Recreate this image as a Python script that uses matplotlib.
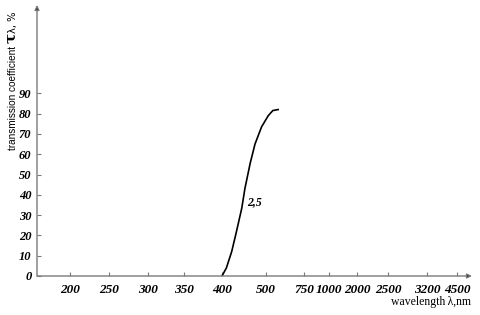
import numpy as np
import matplotlib
matplotlib.use("Agg")
import matplotlib.pyplot as plt

# tick wavelengths (nm) shown on the x axis, axis is not linear
tick_wl = [200, 250, 300, 350, 400, 500, 750, 1000, 2000, 2500, 3200, 4500]
# where each tick sits along the axis (pixels from the left of the figure)
tick_px = [70, 109, 148, 184, 222, 266, 304, 329, 357, 388, 427, 457]
y_ticks = [0, 10, 20, 30, 40, 50, 60, 70, 80, 90]

# curve "2,5"
wl = [400, 410, 422, 433, 445, 452, 464, 475, 490, 515, 545, 580]
tau = [0, 4, 12, 22, 33.5, 43, 55.5, 65, 73.5, 79, 81.5, 82]

anchor_wl = [150] + tick_wl + [5000]
anchor_px = [37] + tick_px + [472]


def fwd(x):
    return np.interp(x, anchor_wl, anchor_px)


def inv(p):
    return np.interp(p, anchor_px, anchor_wl)


W, H = 480, 315
fig = plt.figure(figsize=(4.8, 3.15), dpi=100)
ax = fig.add_axes([37 / W, 39 / H, (472 - 37) / W, (276 - 5) / H])
ax.set_xscale("function", functions=(fwd, inv))
ax.set_xlim(150, 5000)
ax.set_ylim(0, (276 - 5) / 2.03)

ax.plot(wl, tau, color="black", lw=1.2)
ax.text(474, 36.5, "2,5", ha="center", va="center", fontsize=8.5,
        family="Liberation Serif", style="italic", weight="bold")

grey = "#7a7a7a"
for s in ax.spines.values():
    s.set_visible(False)
ax.annotate("", xy=(0, 1), xytext=(0, 0), xycoords="axes fraction",
            arrowprops=dict(arrowstyle="-|>", color=grey, lw=1.0,
                            mutation_scale=7, fc="black", shrinkA=0, shrinkB=0))
ax.annotate("", xy=(1, 0), xytext=(0, 0), xycoords="axes fraction",
            arrowprops=dict(arrowstyle="-|>", color=grey, lw=1.0,
                            mutation_scale=7, fc="black", shrinkA=0, shrinkB=0))

ax.set_xticks(tick_wl)
ax.set_xticklabels([str(t) for t in tick_wl])
ax.set_yticks(y_ticks)
ax.set_yticklabels([str(t) for t in y_ticks])
ax.minorticks_off()
ax.tick_params(axis="both", direction="in", length=3, width=0.8, color=grey,
               labelsize=9.5)
ax.tick_params(axis="y", labelsize=9, pad=4)
ax.tick_params(axis="x", pad=6)
for lab in ax.get_xticklabels() + ax.get_yticklabels():
    lab.set_family("Liberation Serif")
    lab.set_style("italic")
    lab.set_weight("bold")

# x label
fig.text(431 / W, 1 - 302 / H, "wavelength\u2009\u03bb,nm", ha="center", va="center",
         fontsize=8.5, family="Liberation Serif")

# y label, built from pieces of different size
t1 = fig.text(13 / W, 1 - 150 / H, "transmission coefficient ", rotation=90,
              ha="center", va="bottom", fontsize=7.2,
              family=["Liberation Sans Narrow", "Liberation Sans", "DejaVu Sans"])
t2 = ax.annotate("\u03c4", xy=(1, 1), xycoords=t1, rotation=90, ha="right",
                 va="bottom", fontsize=11, weight="bold", family="DejaVu Serif",
                 annotation_clip=False)
t3 = ax.annotate("\u03bb, %", xy=(1, 1), xycoords=t2, rotation=90, ha="right",
                 va="bottom", fontsize=7.2, family="DejaVu Sans",
                 annotation_clip=False)

fig.savefig("out.png", dpi=100)
